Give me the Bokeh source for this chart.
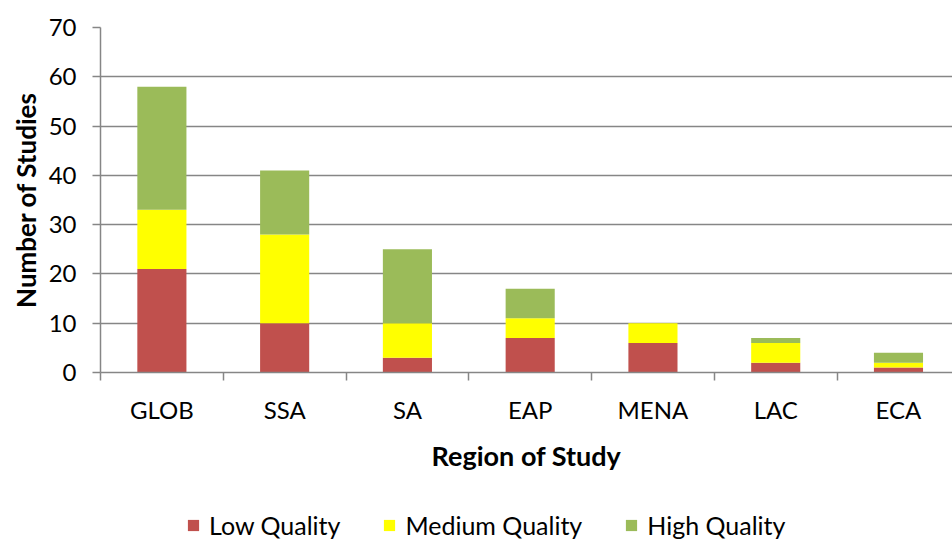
from bokeh.plotting import figure
from bokeh.layouts import column
from bokeh.models import Range1d, FixedTicker, Legend, LegendItem, ColumnDataSource
from bokeh.embed import file_html
from bokeh.resources import INLINE

regions = ["GLOB", "SSA", "SA", "EAP", "MENA", "LAC", "ECA"]
low_quality = [21, 10, 3, 7, 6, 2, 1]
medium_quality = [12, 18, 7, 4, 4, 4, 1]
high_quality = [25, 13, 15, 6, 0, 1, 2]
series_names = ["Low Quality", "Medium Quality", "High Quality"]
y_ticks = [0, 10, 20, 30, 40, 50, 60, 70]

colors = ["#C0504D", "#FFFF00", "#9BBB59"]
FONT = "Lato"
GRAY = "#868686"

xpos = list(range(len(regions)))
source = ColumnDataSource(dict(x=xpos, low=low_quality, medium=medium_quality, high=high_quality))

p = figure(width=952, height=510, output_backend="svg", toolbar_location=None,
           x_range=Range1d(-0.5, 6.44), y_range=Range1d(0, 70),
           min_border_top=27, min_border_left=100, min_border_right=0, min_border_bottom=138)

renderers = p.vbar_stack(["low", "medium", "high"], x="x", width=0.4, color=colors,
                         line_color=None, source=source)

p.outline_line_color = None
p.xgrid.visible = False
p.ygrid.ticker = FixedTicker(ticks=y_ticks)
p.ygrid.grid_line_color = GRAY
p.ygrid.grid_line_width = 1.5

# y axis
p.yaxis.ticker = FixedTicker(ticks=y_ticks)
p.yaxis.axis_line_color = GRAY
p.yaxis.axis_line_width = 1.5
p.yaxis.major_tick_line_color = GRAY
p.yaxis.major_tick_line_width = 1.5
p.yaxis.major_tick_in = 0
p.yaxis.major_tick_out = 8
p.yaxis.minor_tick_line_color = None
p.yaxis.major_label_standoff = 16
p.yaxis.major_label_text_font = FONT
p.yaxis.major_label_text_font_size = "24px"
p.yaxis.major_label_text_color = "black"
p.yaxis.axis_label = "Number of Studies"
p.yaxis.axis_label_text_font = FONT
p.yaxis.axis_label_text_font_size = "26px"
p.yaxis.axis_label_text_font_style = "bold"
p.yaxis.axis_label_text_color = "black"
p.yaxis.axis_label_standoff = 4

# x axis
p.xaxis.ticker = FixedTicker(ticks=xpos, minor_ticks=[i - 0.5 for i in range(len(regions) + 1)])
p.xaxis.major_label_overrides = {i: r for i, r in zip(xpos, regions)}
p.xaxis.axis_line_color = GRAY
p.xaxis.axis_line_width = 1.5
p.xaxis.major_tick_line_color = None
p.xaxis.major_tick_in = 0
p.xaxis.major_tick_out = 0
p.xaxis.minor_tick_line_color = GRAY
p.xaxis.minor_tick_line_width = 1.5
p.xaxis.minor_tick_in = 0
p.xaxis.minor_tick_out = 8
p.xaxis.major_label_standoff = 14
p.xaxis.major_label_text_font = FONT
p.xaxis.major_label_text_font_size = "24px"
p.xaxis.major_label_text_color = "black"
p.xaxis.axis_label = "Region of Study"
p.xaxis.axis_label_text_font = FONT
p.xaxis.axis_label_text_font_size = "27px"
p.xaxis.axis_label_text_font_style = "bold"
p.xaxis.axis_label_text_color = "black"
p.xaxis.axis_label_standoff = 12

# legend strip below the chart (hidden renderers only supply the legend swatches)
pl = figure(width=952, height=30, output_backend="svg", toolbar_location=None,
            x_range=p.x_range, y_range=Range1d(0, 70),
            x_axis_location=None, y_axis_location=None,
            min_border_top=0, min_border_left=100, min_border_right=0, min_border_bottom=0)
pl.grid.visible = False
pl.outline_line_color = None
swatches = pl.vbar_stack(["low", "medium", "high"], x="x", width=0.4, color=colors,
                         line_color=None, source=source)
for r in swatches:
    r.visible = False

legend = Legend(items=[LegendItem(label=n, renderers=[r]) for n, r in zip(series_names, swatches)],
                orientation="horizontal", location=(86, 0),
                glyph_width=14, glyph_height=14, label_standoff=9, spacing=42,
                label_text_font=FONT, label_text_font_size="25px", label_text_color="black",
                border_line_color=None, background_fill_alpha=0, padding=0, margin=0,
                inactive_fill_alpha=0)
pl.add_layout(legend, "center")

layout = column(p, pl, spacing=0)
open("out.html", "w").write(file_html(layout, INLINE))
